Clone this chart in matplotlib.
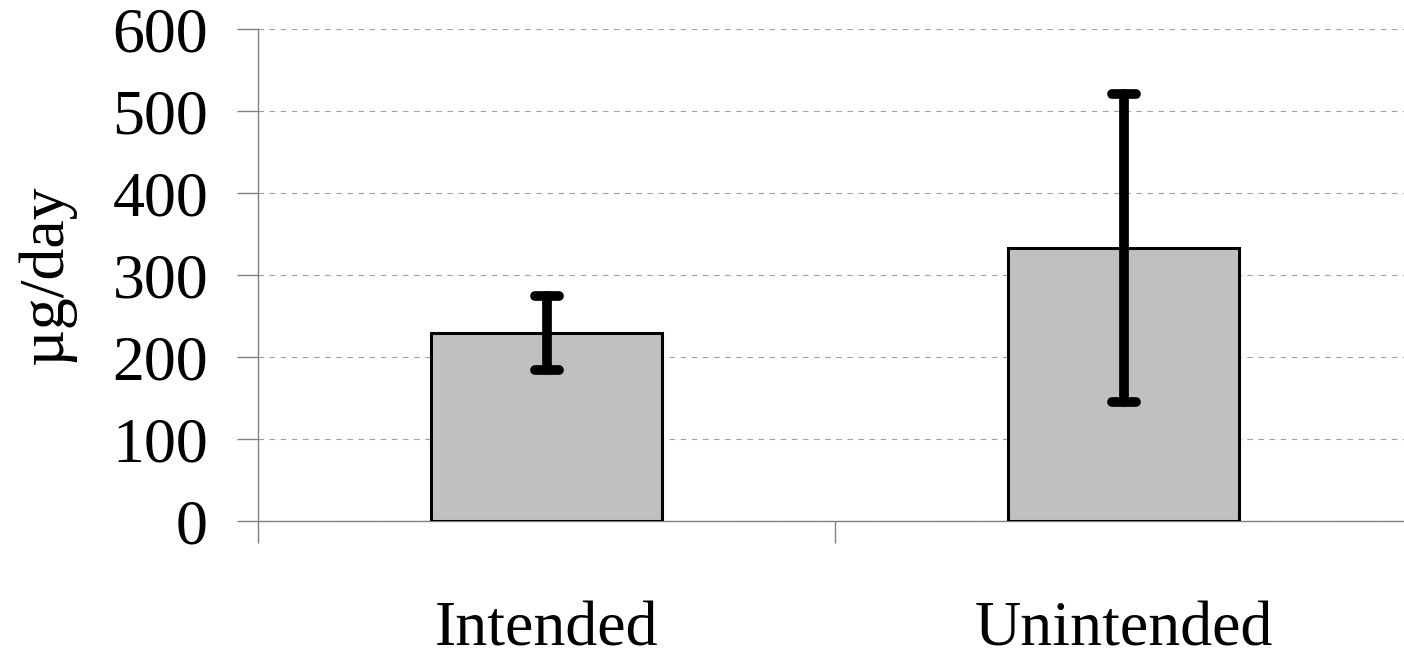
import matplotlib
matplotlib.use('Agg')
import matplotlib.pyplot as plt
from matplotlib.markers import MarkerStyle
import numpy as np

# data
categories = ['Intended', 'Unintended']
means = [229, 333]
errors = [45, 188]
y_ticks = [0, 100, 200, 300, 400, 500, 600]

plt.rcParams['font.family'] = ['Liberation Serif', 'DejaVu Serif']

fig = plt.figure(figsize=(14.04, 6.57), dpi=100)
ax = fig.add_axes([258 / 1404, 136 / 657, 1146 / 1404, 492 / 657])

x = np.arange(len(categories))
axis_gray = '#808080'

# bars
ax.bar(x, means, width=0.4, color='#c0c0c0', edgecolor='black', linewidth=2.2, zorder=3)

# error bars
eb = ax.errorbar(x, means, yerr=errors, fmt='none', ecolor='black',
                 elinewidth=7, capsize=8.5, capthick=7, zorder=4)
for cap in eb[1]:
    cap.set_marker(MarkerStyle('_', capstyle='round'))
for col in eb[2]:
    col.set_capstyle('round')

# grid
ax.set_yticks(y_ticks)
ax.yaxis.grid(True, linestyle=(0, (5, 5)), color='#a0a0a0', linewidth=0.8)
ax.set_axisbelow(True)

# spines
for s in ['top', 'right']:
    ax.spines[s].set_visible(False)
for s in ['left', 'bottom']:
    ax.spines[s].set_color(axis_gray)
    ax.spines[s].set_linewidth(1.0)

# y ticks
ax.tick_params(axis='y', direction='out', length=15, width=1.0, color=axis_gray,
               labelsize=46, pad=21)

# x ticks: labels at category centres, tick marks at boundaries
ax.set_xticks(x)
ax.set_xticklabels(categories)
ax.set_xticks(np.arange(len(categories)) - 0.5, minor=True)
ax.tick_params(axis='x', which='major', length=0, labelsize=46, pad=58)
ax.tick_params(axis='x', which='minor', direction='out', length=16, width=1.0,
               color=axis_gray)

# axes limits (categories span one unit each), set after ticks
ax.set_xlim(-0.5, -0.5 + 1146 / 577)
ax.set_ylim(0, 600)

# y label
ax.set_ylabel('µg/day', fontsize=46)
ax.yaxis.set_label_coords(-182 / 1146, 0.5)

plt.savefig('out.png', dpi=100)
plt.close()
